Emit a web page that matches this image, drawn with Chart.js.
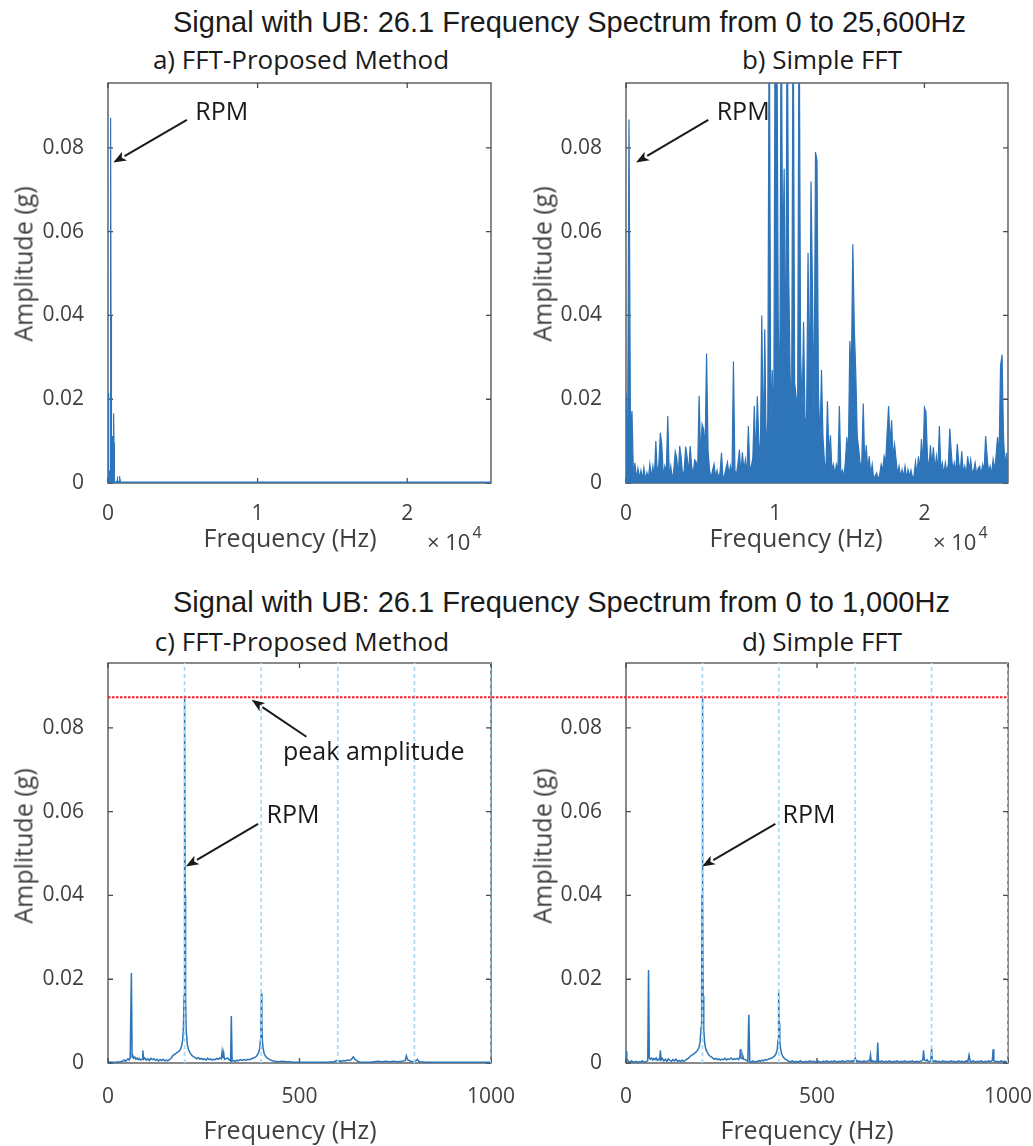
<!DOCTYPE html>
<html>
<head>
<meta charset="utf-8">
<title>Signal with UB: 26.1 Frequency Spectrum</title>
<script src="https://cdn.jsdelivr.net/npm/chart.js@4.4.1/dist/chart.umd.min.js"></script>
<style>
  body { margin: 0; background: #fff; }
  #page { position: relative; width: 1033px; height: 1146px; overflow: hidden; font-family: "Open Sans", sans-serif; }
  .panel { position: absolute; }
  .sup { position: absolute; left: 173px; font-family: "Liberation Sans", Arial, sans-serif; font-size: 29px; line-height: 29px; color: #1a1a1a; white-space: nowrap; }
  .title { position: absolute; font-size: 26px; line-height: 26px; color: #1a1a1a; white-space: nowrap; transform: translateX(-50%); }
  .xlabel { position: absolute; font-size: 25px; line-height: 25px; color: #404040; white-space: nowrap; transform: translateX(-50%); }
  .ylabel { position: absolute; font-size: 25px; line-height: 25px; color: #404040; white-space: nowrap; transform: translate(-50%, -50%) rotate(-90deg); }
  .expo { position: absolute; font-size: 22px; line-height: 22px; color: #404040; white-space: nowrap; }
  .expo span { position: relative; top: -12px; font-size: 16px; margin-left: 2px; }
</style>
</head>
<body>
<div id="page">
  <div class="sup" style="top:8px">Signal with UB: 26.1 Frequency Spectrum from 0 to 25,600Hz</div>
  <div class="sup" style="top:588px">Signal with UB: 26.1 Frequency Spectrum from 0 to 1,000Hz</div>

  <div class="title" style="left:301px;top:46px">a) FFT-Proposed Method</div>
  <div class="title" style="left:822px;top:46px">b) Simple FFT</div>
  <div class="title" style="left:302px;top:628px">c) FFT-Proposed Method</div>
  <div class="title" style="left:822px;top:628px">d) Simple FFT</div>

  <div class="panel" style="left:0;top:0;width:520px;height:560px"><canvas id="chartA"></canvas></div>
  <div class="panel" style="left:520px;top:0;width:513px;height:560px"><canvas id="chartB"></canvas></div>
  <div class="panel" style="left:0;top:575px;width:520px;height:571px"><canvas id="chartC"></canvas></div>
  <div class="panel" style="left:520px;top:575px;width:513px;height:571px"><canvas id="chartD"></canvas></div>

  <div class="ylabel" style="left:23px;top:264px">Amplitude (g)</div>
  <div class="ylabel" style="left:542px;top:264px">Amplitude (g)</div>
  <div class="ylabel" style="left:23px;top:846px">Amplitude (g)</div>
  <div class="ylabel" style="left:542px;top:846px">Amplitude (g)</div>

  <div class="xlabel" style="left:290px;top:525px">Frequency (Hz)</div>
  <div class="xlabel" style="left:796px;top:525px">Frequency (Hz)</div>
  <div class="xlabel" style="left:290px;top:1117px">Frequency (Hz)</div>
  <div class="xlabel" style="left:807px;top:1117px">Frequency (Hz)</div>

  <div class="expo" style="left:427px;top:530px">× 10<span>4</span></div>
  <div class="expo" style="left:933px;top:530px">× 10<span>4</span></div>
</div>

<script>
// AXIS SETUP
const yMax = 0.0955
const yTicks = [0, 0.02, 0.04, 0.06, 0.08]
const yTickLabels = ["0", "0.02", "0.04", "0.06", "0.08"]
const fullSpanHz = 25600
const fullTicks = [0, 10000, 20000]
const fullTickLabels = ["0", "1", "2"]
const zoomSpanHz = 1000
const zoomTicks = [0, 500, 1000]
const zoomTickLabels = ["0", "500", "1000"]

// harmonics of the shaft speed (marked in c and d) and the peak amplitude
const harmonicsHz = [200, 400, 600, 800, 1000]
const peakAmplitude = 0.0873

// c) FFT-Proposed Method, 0 - 1000 Hz
const cFreq = [
  0, 10, 20, 30, 38, 42, 46, 52, 55, 58,
  61, 63, 65, 67, 70, 73, 76, 79, 82, 85,
  89, 91, 93, 96, 100, 104, 108, 112, 116, 120,
  124, 128, 132, 136, 140, 144, 148, 152, 156, 160,
  164, 168, 172, 176, 180, 184, 188, 192, 195, 197,
  198.5, 199.5, 200.5, 201.5, 202.5, 204, 207, 210, 214, 218,
  223, 228, 232, 236, 240, 244, 248, 252, 256, 260,
  264, 268, 272, 276, 280, 284, 288, 292, 296, 298,
  300, 302, 304, 308, 312, 316, 320, 322, 324, 328,
  332, 336, 340, 345, 350, 355, 360, 365, 370, 375,
  380, 385, 389, 393, 396, 398, 399.3, 400.5, 401.7, 403,
  405, 408, 412, 417, 422, 428, 435, 445, 455, 465,
  475, 485, 495, 510, 530, 550, 570, 590, 598, 602,
  606, 610, 615, 620, 625, 630, 635, 638, 641, 644,
  648, 652, 658, 665, 675, 685, 695, 705, 715, 725,
  735, 745, 755, 765, 772, 776, 779, 782, 786, 790,
  795, 800, 805, 808, 811, 815, 830, 850, 870, 890,
  910, 930, 950, 970, 990, 1000
]
const cAmp = [
  0.0003, 0.0002, 0.0002, 0.0003, 0.0004, 0.0007, 0.0004, 0.0010, 0.0007, 0.0012,
  0.0215, 0.0014, 0.0017, 0.0011, 0.0014, 0.0009, 0.0012, 0.0008, 0.0011, 0.0007,
  0.0009, 0.0030, 0.0009, 0.0012, 0.0007, 0.0010, 0.0006, 0.0011, 0.0008, 0.0010,
  0.0006, 0.0009, 0.0005, 0.0008, 0.0006, 0.0009, 0.0005, 0.0007, 0.0005, 0.0008,
  0.0010, 0.0016, 0.0020, 0.0022, 0.0025, 0.0027, 0.0031, 0.0040, 0.0055, 0.0085,
  0.0160, 0.0400, 0.0872, 0.0400, 0.0160, 0.0080, 0.0045, 0.0032, 0.0025, 0.0019,
  0.0015, 0.0013, 0.0010, 0.0013, 0.0009, 0.0011, 0.0008, 0.0010, 0.0007, 0.0011,
  0.0008, 0.0010, 0.0007, 0.0009, 0.0008, 0.0011, 0.0009, 0.0012, 0.0010, 0.0027,
  0.0012, 0.0024, 0.0009, 0.0010, 0.0012, 0.0008, 0.0005, 0.0112, 0.0005, 0.0006,
  0.0004, 0.0007, 0.0005, 0.0008, 0.0006, 0.0008, 0.0006, 0.0009, 0.0008, 0.0010,
  0.0012, 0.0014, 0.0018, 0.0024, 0.0034, 0.0055, 0.0095, 0.0166, 0.0095, 0.0055,
  0.0034, 0.0022, 0.0015, 0.0011, 0.0008, 0.0006, 0.0004, 0.0003, 0.0004, 0.0003,
  0.0003, 0.0002, 0.0002, 0.0002, 0.0002, 0.0002, 0.0002, 0.0003, 0.0006, 0.0003,
  0.0005, 0.0004, 0.0006, 0.0005, 0.0007, 0.0006, 0.0008, 0.0012, 0.0015, 0.0009,
  0.0007, 0.0004, 0.0002, 0.0002, 0.0002, 0.0002, 0.0003, 0.0004, 0.0003, 0.0004,
  0.0003, 0.0004, 0.0003, 0.0004, 0.0005, 0.0006, 0.0017, 0.0008, 0.0006, 0.0004,
  0.0003, 0.0003, 0.0006, 0.0009, 0.0004, 0.0003, 0.0002, 0.0002, 0.0002, 0.0002,
  0.0002, 0.0002, 0.0002, 0.0002, 0.0002, 0.0002
]

// a) same proposed spectrum, flat above 1 kHz up to 25.6 kHz
const aTailFreq = [1500, 25600]
const aTailAmp = [0.0002, 0.0002]

// b) Simple FFT, 0 - 25600 Hz in 100 Hz bins
const bBinHz = 100
const bAmp = [
  0.0215, 0.0025, 0.0868, 0.0117, 0.0172, 0.0012, 0.0048, 0.0010, 0.0035, 0.0012,
  0.0030, 0.0010, 0.0036, 0.0008, 0.0025, 0.0010, 0.0045, 0.0012, 0.0040, 0.0015,
  0.0100, 0.0020, 0.0045, 0.0120, 0.0092, 0.0015, 0.0040, 0.0025, 0.0160, 0.0015,
  0.0040, 0.0008, 0.0030, 0.0075, 0.0060, 0.0015, 0.0088, 0.0060, 0.0015, 0.0030,
  0.0087, 0.0060, 0.0025, 0.0088, 0.0040, 0.0020, 0.0055, 0.0050, 0.0030, 0.0208,
  0.0060, 0.0140, 0.0128, 0.0080, 0.0309, 0.0078, 0.0030, 0.0012, 0.0030, 0.0045,
  0.0015, 0.0030, 0.0012, 0.0025, 0.0072, 0.0012, 0.0017, 0.0035, 0.0050, 0.0020,
  0.0040, 0.0012, 0.0290, 0.0030, 0.0020, 0.0045, 0.0079, 0.0020, 0.0073, 0.0030,
  0.0055, 0.0020, 0.0136, 0.0030, 0.0040, 0.0060, 0.0184, 0.0050, 0.0207, 0.0100,
  0.0050, 0.0400, 0.0080, 0.0367, 0.0070, 0.0150, 0.1200, 0.0136, 0.0270, 0.0100,
  0.1200, 0.1200, 0.0400, 0.0150, 0.1200, 0.0510, 0.0750, 0.0200, 0.1200, 0.0510,
  0.0255, 0.0180, 0.1200, 0.0240, 0.0207, 0.0160, 0.1200, 0.0310, 0.0176, 0.0385,
  0.0150, 0.0155, 0.0550, 0.0200, 0.0720, 0.0450, 0.0150, 0.0790, 0.0770, 0.0210,
  0.0100, 0.0270, 0.0110, 0.0050, 0.0030, 0.0195, 0.0060, 0.0114, 0.0030, 0.0044,
  0.0020, 0.0044, 0.0030, 0.0184, 0.0020, 0.0030, 0.0015, 0.0050, 0.0110, 0.0060,
  0.0339, 0.0260, 0.0570, 0.0370, 0.0260, 0.0110, 0.0080, 0.0040, 0.0050, 0.0190,
  0.0040, 0.0090, 0.0030, 0.0064, 0.0020, 0.0044, 0.0010, 0.0017, 0.0024, 0.0008,
  0.0020, 0.0044, 0.0030, 0.0064, 0.0050, 0.0120, 0.0184, 0.0090, 0.0150, 0.0060,
  0.0092, 0.0056, 0.0020, 0.0040, 0.0015, 0.0032, 0.0015, 0.0040, 0.0012, 0.0032,
  0.0015, 0.0030, 0.0012, 0.0017, 0.0050, 0.0020, 0.0064, 0.0030, 0.0105, 0.0040,
  0.0180, 0.0170, 0.0064, 0.0030, 0.0090, 0.0040, 0.0085, 0.0030, 0.0064, 0.0030,
  0.0136, 0.0030, 0.0048, 0.0020, 0.0048, 0.0025, 0.0045, 0.0130, 0.0072, 0.0030,
  0.0048, 0.0025, 0.0093, 0.0048, 0.0025, 0.0076, 0.0025, 0.0040, 0.0020, 0.0064,
  0.0030, 0.0056, 0.0025, 0.0030, 0.0048, 0.0020, 0.0035, 0.0040, 0.0020, 0.0044,
  0.0030, 0.0112, 0.0064, 0.0025, 0.0040, 0.0020, 0.0056, 0.0030, 0.0065, 0.0110,
  0.0060, 0.0280, 0.0306, 0.0110, 0.0040, 0.0072, 0.0030
]
const bFreq = bAmp.map((_, i) => i * bBinHz)

// d) Simple FFT, 0 - 1000 Hz
const dFreq = [
  0, 2, 6, 10, 14, 18, 22, 26, 30, 34,
  38, 42, 46, 50, 54, 57, 59, 61, 64, 67,
  70, 73, 76, 79, 82, 85, 88, 90, 92, 95,
  99, 103, 107, 111, 115, 119, 123, 127, 131, 135,
  139, 143, 147, 151, 155, 159, 163, 167, 171, 175,
  179, 183, 187, 191, 194, 196.5, 198, 199, 200, 201,
  202, 203.5, 206, 209, 213, 217, 222, 227, 231, 235,
  239, 243, 247, 251, 255, 259, 263, 267, 271, 275,
  279, 283, 287, 291, 295, 298, 299.5, 301, 304, 306,
  308, 312, 316, 319, 321.5, 324, 328, 332, 336, 340,
  344, 348, 352, 356, 360, 364, 368, 372, 376, 381,
  385, 389, 393, 396, 398, 399, 400, 401, 402.5, 404.5,
  407.5, 411, 416, 421, 426, 431, 436, 441, 446, 451,
  456, 461, 466, 471, 476, 481, 486, 491, 496, 501,
  506, 511, 516, 521, 526, 531, 536, 541, 546, 551,
  556, 561, 566, 571, 576, 581, 586, 591, 596, 600,
  603, 607, 611, 615, 619, 623, 627, 631, 635, 638,
  640, 642, 646, 650, 654, 657, 659, 661, 665, 670,
  675, 680, 685, 690, 695, 700, 705, 710, 715, 720,
  725, 730, 735, 740, 745, 750, 755, 760, 765, 770,
  774, 777, 779, 781, 785, 788, 791, 795, 798, 800,
  802, 806, 810, 815, 820, 825, 830, 835, 840, 845,
  850, 855, 860, 865, 870, 875, 880, 885, 890, 895,
  898, 901, 905, 910, 915, 920, 925, 930, 935, 940,
  945, 950, 955, 959, 961, 963, 967, 972, 977, 982,
  987, 992, 996, 1000
]
const dAmp = [
  0.0028, 0.0010, 0.0004, 0.0002, 0.0005, 0.0003, 0.0002, 0.0004, 0.0002, 0.0003,
  0.0002, 0.0005, 0.0003, 0.0002, 0.0004, 0.0006, 0.0222, 0.0012, 0.0009, 0.0012,
  0.0007, 0.0011, 0.0008, 0.0012, 0.0006, 0.0009, 0.0008, 0.0030, 0.0007, 0.0011,
  0.0005, 0.0009, 0.0004, 0.0010, 0.0006, 0.0004, 0.0008, 0.0005, 0.0009, 0.0004,
  0.0006, 0.0003, 0.0007, 0.0004, 0.0006, 0.0009, 0.0011, 0.0015, 0.0018, 0.0020,
  0.0023, 0.0026, 0.0030, 0.0037, 0.0050, 0.0085, 0.0160, 0.0400, 0.0872, 0.0400,
  0.0160, 0.0080, 0.0046, 0.0033, 0.0025, 0.0019, 0.0015, 0.0012, 0.0009, 0.0011,
  0.0008, 0.0010, 0.0007, 0.0009, 0.0008, 0.0011, 0.0007, 0.0010, 0.0009, 0.0012,
  0.0008, 0.0010, 0.0009, 0.0011, 0.0008, 0.0014, 0.0033, 0.0012, 0.0010, 0.0016,
  0.0009, 0.0008, 0.0006, 0.0004, 0.0115, 0.0003, 0.0002, 0.0005, 0.0002, 0.0004,
  0.0003, 0.0006, 0.0004, 0.0007, 0.0005, 0.0008, 0.0007, 0.0009, 0.0010, 0.0012,
  0.0014, 0.0017, 0.0023, 0.0033, 0.0055, 0.0095, 0.0170, 0.0095, 0.0055, 0.0034,
  0.0022, 0.0015, 0.0010, 0.0007, 0.0004, 0.0003, 0.0005, 0.0002, 0.0004, 0.0002,
  0.0005, 0.0003, 0.0002, 0.0004, 0.0002, 0.0005, 0.0003, 0.0004, 0.0002, 0.0005,
  0.0003, 0.0002, 0.0004, 0.0003, 0.0005, 0.0002, 0.0004, 0.0003, 0.0005, 0.0002,
  0.0004, 0.0003, 0.0005, 0.0003, 0.0004, 0.0006, 0.0003, 0.0005, 0.0004, 0.0012,
  0.0004, 0.0005, 0.0003, 0.0004, 0.0002, 0.0005, 0.0003, 0.0004, 0.0006, 0.0005,
  0.0019, 0.0004, 0.0005, 0.0003, 0.0004, 0.0003, 0.0049, 0.0004, 0.0003, 0.0005,
  0.0002, 0.0004, 0.0003, 0.0005, 0.0002, 0.0004, 0.0003, 0.0005, 0.0002, 0.0004,
  0.0003, 0.0005, 0.0002, 0.0004, 0.0003, 0.0005, 0.0002, 0.0004, 0.0003, 0.0004,
  0.0005, 0.0008, 0.0030, 0.0007, 0.0005, 0.0008, 0.0004, 0.0003, 0.0005, 0.0034,
  0.0006, 0.0004, 0.0005, 0.0003, 0.0004, 0.0002, 0.0005, 0.0003, 0.0004, 0.0002,
  0.0005, 0.0003, 0.0004, 0.0002, 0.0005, 0.0003, 0.0004, 0.0002, 0.0005, 0.0004,
  0.0019, 0.0004, 0.0003, 0.0005, 0.0002, 0.0004, 0.0003, 0.0005, 0.0002, 0.0004,
  0.0003, 0.0005, 0.0003, 0.0006, 0.0033, 0.0005, 0.0003, 0.0004, 0.0002, 0.0005,
  0.0003, 0.0004, 0.0002, 0.0003
]

// COLOURS
const lineBlue = "#2e74b9"
const harmonicBlue = "#a8dcf3"
const peakRed = "#ee2229"
const axisGray = "#4a4a4a"
const tickGray = "#404040"
const noteInk = "#1a1a1a"

Chart.defaults.font.family = '"Open Sans", sans-serif'

// box, inward tick marks (under the data like matlab)
const frame = {
  id: "frame",
  beforeDatasetsDraw(chart) {
    const { ctx, chartArea: a, scales } = chart
    ctx.save()
    ctx.strokeStyle = axisGray
    ctx.lineWidth = 1.3
    ctx.strokeRect(a.left, a.top, a.right - a.left, a.bottom - a.top)
    ctx.beginPath()
    scales.x.ticks.forEach((t) => {
      const px = scales.x.getPixelForValue(t.value)
      ctx.moveTo(px, a.bottom)
      ctx.lineTo(px, a.bottom - 5)
      ctx.moveTo(px, a.top)
      ctx.lineTo(px, a.top + 5)
    })
    scales.y.ticks.forEach((t) => {
      const py = scales.y.getPixelForValue(t.value)
      ctx.moveTo(a.left, py)
      ctx.lineTo(a.left + 5, py)
      ctx.moveTo(a.right, py)
      ctx.lineTo(a.right - 5, py)
    })
    ctx.stroke()
    ctx.restore()
  },
}

function drawArrow(ctx, x0, y0, x1, y1) {
  const ang = Math.atan2(y1 - y0, x1 - x0)
  const len = 13
  const half = 5
  const bx = x1 - len * Math.cos(ang)
  const by = y1 - len * Math.sin(ang)
  ctx.beginPath()
  ctx.moveTo(x0, y0)
  ctx.lineTo(bx, by)
  ctx.stroke()
  ctx.beginPath()
  ctx.moveTo(x1, y1)
  ctx.lineTo(bx + half * Math.sin(ang), by - half * Math.cos(ang))
  ctx.lineTo(x1 - 0.75 * len * Math.cos(ang), y1 - 0.75 * len * Math.sin(ang))
  ctx.lineTo(bx - half * Math.sin(ang), by + half * Math.cos(ang))
  ctx.closePath()
  ctx.fill()
}

// peak amplitude line + arrows with labels
const notes = {
  id: "notes",
  afterDatasetsDraw(chart, args, opts) {
    const { ctx, chartArea, scales } = chart
    const { x, y } = scales
    ctx.save()
    if (opts.peak) {
      const py = y.getPixelForValue(peakAmplitude)
      const x0 = opts.peak === "toRight" ? chartArea.left : 0
      const x1 = opts.peak === "toRight" ? chart.width : chartArea.right
      ctx.strokeStyle = peakRed
      ctx.lineWidth = 2
      ctx.setLineDash([2.5, 1.5])
      ctx.beginPath()
      ctx.moveTo(x0, py)
      ctx.lineTo(x1, py)
      ctx.stroke()
      ctx.setLineDash([])
    }
    ctx.strokeStyle = noteInk
    ctx.fillStyle = noteInk
    ctx.lineWidth = 2
    ctx.font = '25px "Open Sans"'
    ctx.textAlign = "left"
    ctx.textBaseline = "alphabetic"
    ;(opts.items || []).forEach((n) => {
      drawArrow(
        ctx,
        x.getPixelForValue(n.tail[0]),
        y.getPixelForValue(n.tail[1]),
        x.getPixelForValue(n.tip[0]),
        y.getPixelForValue(n.tip[1])
      )
      ctx.fillText(n.text, x.getPixelForValue(n.at[0]), y.getPixelForValue(n.at[1]))
    })
    ctx.restore()
  },
}

function makePanel(canvasId, p) {
  const datasets = [
    {
      data: p.freq.map((f, i) => ({ x: f, y: p.amp[i] })),
      borderColor: lineBlue,
      backgroundColor: lineBlue,
      // the full band spectra are so dense they read as a solid area
      fill: p.dense ? "origin" : false,
      borderWidth: p.dense ? 1.2 : 1.5,
      pointRadius: 0,
      order: 3,
    },
  ]
  ;(p.harmonics || []).forEach((h) => {
    datasets.push({
      data: [
        { x: h, y: 0 },
        { x: h, y: yMax },
      ],
      borderColor: harmonicBlue,
      borderWidth: 1.8,
      borderDash: [4, 3],
      pointRadius: 0,
      order: 1,
    })
  })

  return new Chart(document.getElementById(canvasId), {
    type: "line",
    data: { datasets },
    options: {
      responsive: true,
      maintainAspectRatio: false,
      animation: false,
      parsing: false,
      layout: { padding: { top: p.padTop, right: p.padRight, left: 0, bottom: 0 } },
      plugins: {
        legend: { display: false },
        tooltip: { enabled: false },
        notes: { items: p.notes, peak: p.peak },
      },
      scales: {
        x: {
          type: "linear",
          min: 0,
          max: p.xMax,
          grid: { display: false },
          border: { display: false },
          afterBuildTicks: (s) => {
            s.ticks = p.xTicks.map((v) => ({ value: v }))
          },
          afterFit: (s) => {
            s.height = p.xHeight
            s.paddingLeft = 0
            s.paddingRight = 0
          },
          ticks: {
            padding: p.xTickPad,
            color: tickGray,
            font: { size: 21 },
            maxRotation: 0,
            autoSkip: false,
            callback: (v, i) => p.xTickLabels[i],
          },
        },
        y: {
          type: "linear",
          min: 0,
          max: yMax,
          grid: { display: false },
          border: { display: false },
          afterBuildTicks: (s) => {
            s.ticks = yTicks.map((v) => ({ value: v }))
          },
          afterFit: (s) => {
            s.width = p.yWidth
            s.paddingTop = 0
            s.paddingBottom = 0
          },
          ticks: {
            padding: 16,
            color: tickGray,
            font: { size: 21 },
            autoSkip: false,
            callback: (v, i) => yTickLabels[i],
          },
        },
      },
    },
    plugins: [frame, notes],
  })
}

makePanel("chartA", {
  freq: cFreq.concat(aTailFreq),
  amp: cAmp.concat(aTailAmp),
  dense: true,
  xMax: fullSpanHz,
  xTicks: fullTicks,
  xTickLabels: fullTickLabels,
  xTickPad: 10,
  yWidth: 108,
  xHeight: 77,
  padTop: 83,
  padRight: 29,
  notes: [{ text: "RPM", at: [5830, 0.0867], tail: [5273, 0.0867], tip: [355, 0.0765] }],
})

makePanel("chartB", {
  freq: bFreq,
  amp: bAmp,
  dense: true,
  xMax: fullSpanHz,
  xTicks: fullTicks,
  xTickLabels: fullTickLabels,
  xTickPad: 10,
  yWidth: 106,
  xHeight: 77,
  padTop: 83,
  padRight: 25,
  notes: [{ text: "RPM", at: [6078, 0.0867], tail: [5515, 0.0867], tip: [670, 0.0765] }],
})

makePanel("chartC", {
  freq: cFreq,
  amp: cAmp,
  harmonics: harmonicsHz,
  xMax: zoomSpanHz,
  xTicks: zoomTicks,
  xTickLabels: zoomTickLabels,
  xTickPad: 13,
  yWidth: 108,
  xHeight: 83,
  padTop: 88,
  padRight: 29,
  peak: "toRight",
  notes: [
    { text: "peak amplitude", at: [457, 0.0723], tail: [518, 0.0779], tip: [375, 0.0867] },
    { text: "RPM", at: [414, 0.0573], tail: [392, 0.0571], tip: [203, 0.0469] },
  ],
})

makePanel("chartD", {
  freq: dFreq,
  amp: dAmp,
  harmonics: harmonicsHz,
  xMax: zoomSpanHz,
  xTicks: zoomTicks,
  xTickLabels: zoomTickLabels,
  xTickPad: 13,
  yWidth: 106,
  xHeight: 83,
  padTop: 88,
  padRight: 25,
  peak: "fromLeft",
  notes: [{ text: "RPM", at: [410, 0.0573], tail: [391, 0.0571], tip: [199, 0.0469] }],
})
</script>
</body>
</html>
